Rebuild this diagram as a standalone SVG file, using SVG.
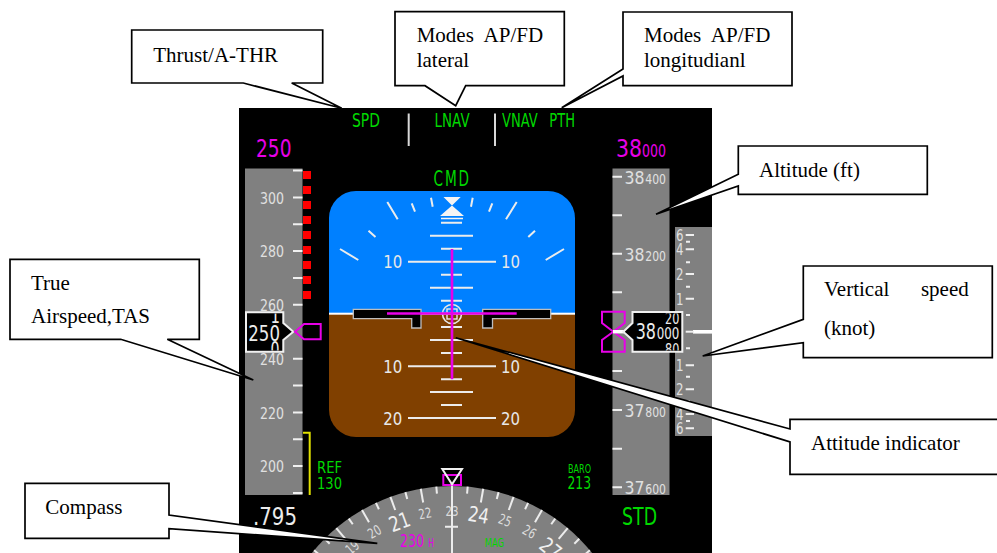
<svg xmlns="http://www.w3.org/2000/svg" width="997" height="553" viewBox="0 0 997 553">
<style>
.t{font-family:"DejaVu Sans",Verdana,sans-serif;}
.w{fill:#e4e4e4}.g{fill:#00d800}.m{fill:#e800e8}
.s{font-family:"DejaVu Sans",Verdana,sans-serif;font-size:16.5px;fill:#e0e0e0}
.tk{stroke:#f0f0f0;stroke-width:2;fill:none}
.pl{stroke:#ececec;stroke-width:2;fill:none}
.c{fill:#fff;stroke:#000;stroke-width:1.7;stroke-linejoin:miter}
.l{font-family:"Liberation Serif","Times New Roman",serif;font-size:21px;fill:#000}
</style>
<defs>
<clipPath id="adi"><rect x="329" y="191" width="246" height="246" rx="27" ry="27"/></clipPath>
<clipPath id="spdclip"><rect x="268" y="313.5" width="15" height="37"/></clipPath>
<clipPath id="altclip"><rect x="660" y="313.5" width="21" height="37"/></clipPath>
<clipPath id="panel"><rect x="239" y="108" width="473" height="445"/></clipPath>
</defs>
<rect width="997" height="553" fill="#fff"/>
<g id="panel-bg"><rect x="239" y="108" width="473" height="445" fill="#000"/></g>

<g id="fma">
<text class="t g" x="352" y="127" font-size="19" textLength="28" lengthAdjust="spacingAndGlyphs">SPD</text>
<text class="t g" x="434.6" y="127" font-size="19" textLength="35" lengthAdjust="spacingAndGlyphs">LNAV</text>
<text class="t g" x="502" y="127" font-size="19" word-spacing="11" textLength="73" lengthAdjust="spacingAndGlyphs">VNAV PTH</text>
<path d="M408.7 113.5V146M495 113.5V146" stroke="#d8d8d8" stroke-width="2"/>
<text class="t g" font-size="22" letter-spacing="3" transform="translate(433.5 186) scale(.62 1)">CMD</text>
</g>

<g id="speed-tape">
<text class="t m" x="256" y="157" font-size="24" textLength="35.5" lengthAdjust="spacingAndGlyphs">250</text>
<rect x="245" y="168.5" width="57.5" height="326.5" fill="#808080"/>
<path class="tk" d="M293 170.5h9.5M293 197.5h9.5M293 224.3h9.5M293 251h9.5M293 278h9.5M293 304.7h9.5M293 358.7h9.5M293 385.6h9.5M293 412.5h9.5M293 439.3h9.5M293 466h9.5M293 493h9.5"/>
<text class="s" x="260" y="203.5" textLength="24" lengthAdjust="spacingAndGlyphs">300</text>
<text class="s" x="260" y="257" textLength="24" lengthAdjust="spacingAndGlyphs">280</text>
<text class="s" x="260" y="310.5" textLength="24" lengthAdjust="spacingAndGlyphs">260</text>
<text class="s" x="260" y="364.5" textLength="24" lengthAdjust="spacingAndGlyphs">240</text>
<text class="s" x="260" y="418.5" textLength="24" lengthAdjust="spacingAndGlyphs">220</text>
<text class="s" x="260" y="472" textLength="24" lengthAdjust="spacingAndGlyphs">200</text>
<g fill="#ff0000">
<rect x="303" y="171" width="8" height="8"/><rect x="303" y="186" width="8" height="8"/><rect x="303" y="201" width="8" height="8"/><rect x="303" y="216" width="8" height="8"/><rect x="303" y="231" width="8" height="8"/><rect x="303" y="246" width="8" height="8"/><rect x="303" y="261" width="8" height="8"/><rect x="303" y="276" width="8" height="8"/><rect x="303" y="291" width="8" height="8"/>
</g>
<path d="M303 432.7H309.7V495" fill="none" stroke="#e0e000" stroke-width="2"/>
<text class="t g" x="317" y="473" font-size="16.5" textLength="25" lengthAdjust="spacingAndGlyphs">REF</text>
<text class="t g" x="317" y="489" font-size="16.5" textLength="25" lengthAdjust="spacingAndGlyphs">130</text>
<text class="t" fill="#ececec" x="253" y="525" font-size="24" textLength="44" lengthAdjust="spacingAndGlyphs">.795</text>
</g>

<g id="speed-box">
<path d="M246 312.3H283.3V323L293.3 331.8L283.3 340V351.7H246Z" fill="#000" stroke="#f0f0f0" stroke-width="2"/>
<text class="t" fill="#ececec" x="248.3" y="340.7" font-size="21" textLength="31.7" lengthAdjust="spacingAndGlyphs">250</text>
<g clip-path="url(#spdclip)">
<text class="t" fill="#ececec" x="270.5" y="322.7" font-size="21" textLength="9.5" lengthAdjust="spacingAndGlyphs">1</text>
<text class="t" fill="#ececec" x="270.5" y="357" font-size="21" textLength="9" lengthAdjust="spacingAndGlyphs">0</text>
</g>
<path d="M295 331.7L304 324H320.7V339.3H304Z" fill="none" stroke="#e800e8" stroke-width="2"/>
</g>

<g id="attitude">
<g clip-path="url(#adi)">
<rect x="329" y="191" width="246" height="123" fill="#0080ff"/>
<rect x="329" y="314" width="246" height="123" fill="#804000"/>
<rect x="329" y="312.7" width="246" height="2" fill="#fff"/>
</g>
<path class="pl" d="M387.3 202L397.7 219.3M411.7 203.3L415 211.7M431 197.7L432.7 206.7M471 206.7L472.7 197.7M489 211.7L492.3 203.3M506 219.3L516.7 202M368.5 230.7L375.5 237M528.3 237L535 230.7M340 249L358.3 260M545.7 260L564 249"/>
<path d="M443.5 197H460.7L452 205.5L464 216H440L452 205.5Z" fill="#f4f4f4"/>
<path class="pl" d="M441 222.7H462M430 235.7H473M441 248.7H462M408 261.7H496M441 274.7H462M430 287.7H473M441 300.7H462M441 327H462M430 340H473M441 353H462M408 366.3H496M441 379.3H462M430 392H473M441 405H462M408 418H496"/>
<path d="M441 218.5H463" stroke="#f4f4f4" stroke-width="1.5"/>
<g font-family="DejaVu Sans,Verdana,sans-serif" font-size="17" fill="#e8e8e8">
<text x="383.3" y="268" textLength="19" lengthAdjust="spacingAndGlyphs">10</text>
<text x="501" y="268" textLength="19" lengthAdjust="spacingAndGlyphs">10</text>
<text x="383.3" y="372.7" textLength="19" lengthAdjust="spacingAndGlyphs">10</text>
<text x="501" y="372.7" textLength="19" lengthAdjust="spacingAndGlyphs">10</text>
<text x="383.3" y="425" textLength="19" lengthAdjust="spacingAndGlyphs">20</text>
<text x="501" y="425" textLength="19" lengthAdjust="spacingAndGlyphs">20</text>
</g>
<path d="M353.3 309.3H421V328H411.7V318.7H353.3Z" fill="#000" stroke="#bdbdbd" stroke-width="1.3"/>
<path d="M550.7 309.3H482.7V328H492.5V318.7H550.7Z" fill="#000" stroke="#bdbdbd" stroke-width="1.3"/>
<circle cx="452" cy="314" r="9.5" fill="none" stroke="#e8e8e8" stroke-width="1.6"/>
<rect x="447" y="309" width="10" height="10" fill="none" stroke="#e8e8e8" stroke-width="1.4"/>
<path d="M387 313.5H516.7M452 249V379.3" stroke="#e800e8" stroke-width="2.6" fill="none"/>
</g>

<g id="altitude-tape">
<text class="t m" x="616" y="157" font-size="24" textLength="26" lengthAdjust="spacingAndGlyphs">38</text>
<text class="t m" x="642" y="157" font-size="18" textLength="24" lengthAdjust="spacingAndGlyphs">000</text>
<rect x="612.5" y="168.5" width="57" height="326.5" fill="#808080"/>
<path class="tk" d="M612.5 176.7h9.5M612.5 215.3h9.5M612.5 253.7h9.5M612.5 292.3h9.5M612.5 371h9.5M612.5 410h9.5M612.5 448.7h9.5M612.5 487.3h9.5"/>
<g font-family="DejaVu Sans,Verdana,sans-serif" fill="#e0e0e0">
<text x="624.5" y="184" font-size="18" textLength="20" lengthAdjust="spacingAndGlyphs">38</text><text x="645.3" y="184" font-size="14" textLength="20.7" lengthAdjust="spacingAndGlyphs">400</text>
<text x="624.5" y="261.3" font-size="18" textLength="20" lengthAdjust="spacingAndGlyphs">38</text><text x="645.3" y="261.3" font-size="14" textLength="20.7" lengthAdjust="spacingAndGlyphs">200</text>
<text x="624.5" y="417.3" font-size="18" textLength="20" lengthAdjust="spacingAndGlyphs">37</text><text x="645.3" y="417.3" font-size="14" textLength="20.7" lengthAdjust="spacingAndGlyphs">800</text>
<text x="624.5" y="494" font-size="18" textLength="20" lengthAdjust="spacingAndGlyphs">37</text><text x="645.3" y="494" font-size="14" textLength="20.7" lengthAdjust="spacingAndGlyphs">600</text>
</g>
<text class="t g" x="622" y="525" font-size="24" textLength="35" lengthAdjust="spacingAndGlyphs">STD</text>
<text class="t g" x="568" y="473" font-size="12" textLength="23" lengthAdjust="spacingAndGlyphs">BARO</text>
<text class="t g" x="567.5" y="489" font-size="17" textLength="23.5" lengthAdjust="spacingAndGlyphs">213</text>
</g>

<g id="vs-tape">
<rect x="675" y="227" width="37" height="209" fill="#808080"/>
<path class="tk" d="M685.7 235H694M686 241.7H690M685.7 249.3H694M686 262.3H690M685.7 274H694M686 286.7H690M685.7 298.7H694M686 315H690M686 348.3H690M685.7 365.3H694M686 376.7H690M685.7 389.3H694M686 401H690M685.7 414H694M686 421H690M685.7 428.3H694"/>
<rect x="693" y="330" width="19" height="3.6" fill="#fff"/>
<path d="M685.7 331.7H694" stroke="#f0f0f0" stroke-width="2"/>
<g font-family="DejaVu Sans,Verdana,sans-serif" font-size="15" fill="#e0e0e0">
<text x="676" y="240.5" textLength="7.5" lengthAdjust="spacingAndGlyphs">6</text><text x="676" y="255" textLength="7.5" lengthAdjust="spacingAndGlyphs">4</text><text x="676" y="279.5" textLength="7.5" lengthAdjust="spacingAndGlyphs">2</text><text x="676" y="304.5" textLength="7.5" lengthAdjust="spacingAndGlyphs">1</text><text x="676" y="371" textLength="7.5" lengthAdjust="spacingAndGlyphs">1</text><text x="676" y="395" textLength="7.5" lengthAdjust="spacingAndGlyphs">2</text><text x="676" y="419.5" textLength="7.5" lengthAdjust="spacingAndGlyphs">4</text><text x="676" y="434" textLength="7.5" lengthAdjust="spacingAndGlyphs">6</text>
</g>
</g>

<g id="altitude-box">
<path d="M602 311.7H624.7V323L613.3 331.7L624.7 340V351.7H602V340L613.3 331.7L602 323Z" fill="none" stroke="#e800e8" stroke-width="2"/>
<rect x="613" y="330" width="11" height="3.4" fill="#fff"/>
<path d="M632.5 312H682.3V351.7H632.5V340L623.3 331.7L632.5 323Z" fill="#000" stroke="#f0f0f0" stroke-width="2"/>
<text class="t" fill="#ececec" x="635.7" y="339.3" font-size="21" textLength="20.3" lengthAdjust="spacingAndGlyphs">38</text>
<text class="t" fill="#ececec" x="656.7" y="338.5" font-size="15.5" textLength="22.6" lengthAdjust="spacingAndGlyphs">000</text>
<g clip-path="url(#altclip)">
<text class="t" fill="#ececec" x="665" y="323.5" font-size="15.5" textLength="14.3" lengthAdjust="spacingAndGlyphs">20</text>
<text class="t" fill="#ececec" x="665" y="354.5" font-size="15.5" textLength="14.3" lengthAdjust="spacingAndGlyphs">80</text>
</g>
</g>

<g id="compass" clip-path="url(#panel)">
<circle cx="452" cy="666" r="180" fill="#808080"/>
<g class="pl">
<path d="M452 486V500" transform="rotate(-50 452 666)"/><path d="M452 486V493" transform="rotate(-45 452 666)"/>
<path d="M452 486V500" transform="rotate(-40 452 666)"/><path d="M452 486V493" transform="rotate(-35 452 666)"/>
<path d="M452 486V500" transform="rotate(-30 452 666)"/><path d="M452 486V493" transform="rotate(-25 452 666)"/>
<path d="M452 486V500" transform="rotate(-20 452 666)"/><path d="M452 486V493" transform="rotate(-15 452 666)"/>
<path d="M452 486V500" transform="rotate(-10 452 666)"/><path d="M452 486V493" transform="rotate(-5 452 666)"/>
<path d="M452 486V493" transform="rotate(5 452 666)"/><path d="M452 486V500" transform="rotate(10 452 666)"/>
<path d="M452 486V493" transform="rotate(15 452 666)"/><path d="M452 486V500" transform="rotate(20 452 666)"/>
<path d="M452 486V493" transform="rotate(25 452 666)"/><path d="M452 486V500" transform="rotate(30 452 666)"/>
<path d="M452 486V493" transform="rotate(35 452 666)"/><path d="M452 486V500" transform="rotate(40 452 666)"/>
<path d="M452 486V493" transform="rotate(45 452 666)"/><path d="M452 486V500" transform="rotate(50 452 666)"/>
</g>
<g font-family="DejaVu Sans,Verdana,sans-serif" fill="#dcdcdc">
<text x="445.5" y="516" font-size="14" textLength="13" lengthAdjust="spacingAndGlyphs" transform="rotate(-40 452 666)">19</text>
<text x="445.5" y="516" font-size="14" textLength="13" lengthAdjust="spacingAndGlyphs" transform="rotate(-30 452 666)">20</text>
<text x="441.5" y="520" font-size="21" fill="#f0f0f0" textLength="21" lengthAdjust="spacingAndGlyphs" transform="rotate(-20 452 666)">21</text>
<text x="445.5" y="516" font-size="14" textLength="13" lengthAdjust="spacingAndGlyphs" transform="rotate(-10 452 666)">22</text>
<text x="445.5" y="516" font-size="14" textLength="13" lengthAdjust="spacingAndGlyphs">23</text>
<text x="441.5" y="520" font-size="21" fill="#f0f0f0" textLength="21" lengthAdjust="spacingAndGlyphs" transform="rotate(10 452 666)">24</text>
<text x="445.5" y="516" font-size="14" textLength="13" lengthAdjust="spacingAndGlyphs" transform="rotate(20 452 666)">25</text>
<text x="445.5" y="516" font-size="14" textLength="13" lengthAdjust="spacingAndGlyphs" transform="rotate(30 452 666)">26</text>
<text x="441.5" y="520" font-size="21" fill="#f0f0f0" textLength="21" lengthAdjust="spacingAndGlyphs" transform="rotate(40 452 666)">27</text>
</g>
<path d="M452 486V553M445 526.7H458" stroke="#ececec" stroke-width="2" fill="none"/>
<rect x="443.3" y="475" width="17.7" height="10" fill="none" stroke="#e800e8" stroke-width="2"/>
<path d="M442.3 469H462L452 484.3Z" fill="none" stroke="#f0f0f0" stroke-width="2"/>
<text class="t m" x="400" y="547" font-size="18" textLength="24" lengthAdjust="spacingAndGlyphs">230</text>
<text class="t m" x="428" y="547" font-size="13" textLength="6" lengthAdjust="spacingAndGlyphs">H</text>
<text class="t g" x="484.7" y="547" font-size="12.5" textLength="19.3" lengthAdjust="spacingAndGlyphs">MAG</text>
</g>

<g id="callouts">
<g id="callout-thrust">
<path class="c" d="M131.7 30H322.7V83H291.7L341.7 108.3L243.3 83H131.7Z"/>
<text class="l" x="153.3" y="61.7">Thrust/A-THR</text>
</g>
<g id="callout-lateral">
<path class="c" d="M395 11.7H564.3V85.7H465.7L455.7 105.7L425 85.7H395Z"/>
<text class="l" x="416.7" y="41.7" word-spacing="5.6">Modes AP/FD</text>
<text class="l" x="416.7" y="67">lateral</text>
</g>
<g id="callout-longitudinal">
<path class="c" d="M623 12H792V85.7H623V76L561.7 107.7L623 69Z"/>
<text class="l" x="644" y="41.7" word-spacing="5.6">Modes AP/FD</text>
<text class="l" x="644" y="67">longitudianl</text>
</g>
<g id="callout-altitude">
<path class="c" d="M738.3 146H927.3V194.3H738.3V186L656 214.3L738.3 174.3Z"/>
<text class="l" x="759" y="176.7">Altitude (ft)</text>
</g>
<g id="callout-tas">
<path class="c" d="M10 259.3H199.3V339.3H167.3L253.3 380L120.7 339.3H10Z"/>
<text class="l" x="31" y="290">True</text>
<text class="l" x="31" y="323">Airspeed,TAS</text>
</g>
<g id="callout-vs">
<path class="c" d="M803.3 266H992.3V357.7H803.3V342.7L702.7 356L803.3 319.3Z"/>
<text class="l" x="824" y="296" word-spacing="26.4">Vertical speed</text>
<text class="l" x="824" y="335">(knot)</text>
</g>
<g id="callout-attitude">
<path class="c" d="M1000 419.3H790V429L455.7 337.7L790 442V474.3H1000"/>
<text class="l" x="811" y="450">Attitude indicator</text>
</g>
<g id="callout-compass">
<path class="c" d="M25 483.3H169V515L377.3 543.3L169 528.7V538.3H25Z"/>
<text class="l" x="45.3" y="514">Compass</text>
</g>
</g>
</svg>
